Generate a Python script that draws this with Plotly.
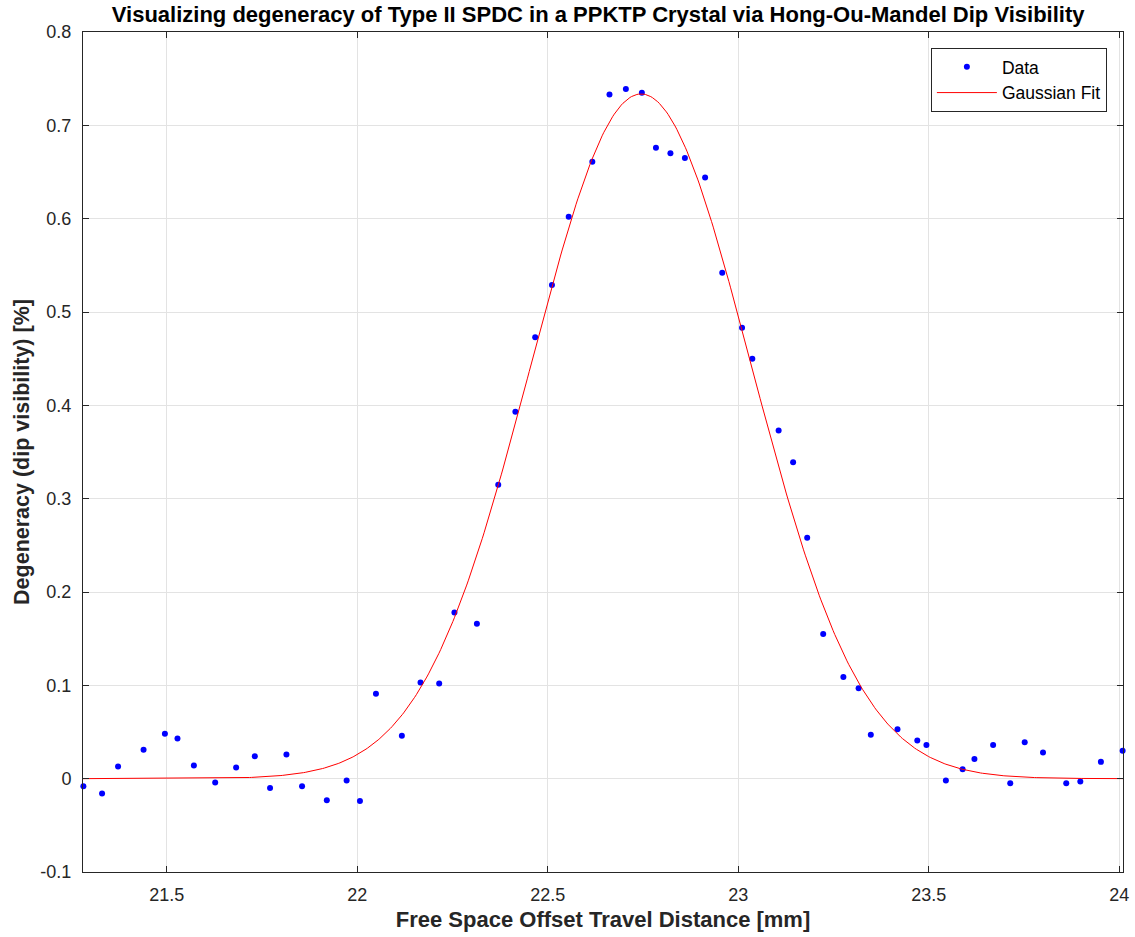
import numpy as np
import plotly.graph_objects as go

# Measured HOM dip visibility vs. free-space delay-stage offset
offset_mm = [
    21.281, 21.330, 21.372, 21.439, 21.495, 21.528, 21.571, 21.627, 21.682, 21.731,
    21.771, 21.814, 21.855, 21.920, 21.972, 22.007, 22.049, 22.117, 22.166, 22.215,
    22.255, 22.314, 22.370, 22.415, 22.467, 22.511, 22.555, 22.617, 22.662, 22.705,
    22.747, 22.784, 22.822, 22.860, 22.913, 22.958, 23.010, 23.037, 23.106, 23.144,
    23.181, 23.223, 23.276, 23.316, 23.348, 23.418, 23.470, 23.494, 23.545, 23.589,
    23.620, 23.669, 23.714, 23.752, 23.800, 23.861, 23.898, 23.952, 24.009,
]
visibility = [
    -0.008, -0.016, 0.013, 0.031, 0.048, 0.043, 0.014, -0.004, 0.012, 0.024,
    -0.010, 0.026, -0.008, -0.023, -0.002, -0.024, 0.091, 0.046, 0.103, 0.102,
    0.178, 0.166, 0.315, 0.393, 0.473, 0.529, 0.602, 0.661, 0.733, 0.739,
    0.735, 0.676, 0.670, 0.665, 0.644, 0.542, 0.483, 0.450, 0.373, 0.339,
    0.258, 0.155, 0.109, 0.097, 0.047, 0.053, 0.041, 0.036, -0.002, 0.010,
    0.021, 0.036, -0.005, 0.039, 0.028, -0.005, -0.003, 0.018, 0.030,
]

# Gaussian fit parameters: amplitude, centre [mm], standard deviation [mm]
fit_amp = 0.7336
fit_center = 22.745
fit_sigma = 0.288

x_ticks = [21.5, 22, 22.5, 23, 23.5, 24]
x_tick_labels = ["21.5", "22", "22.5", "23", "23.5", "24"]
y_ticks = [-0.1, 0, 0.1, 0.2, 0.3, 0.4, 0.5, 0.6, 0.7, 0.8]
y_tick_labels = ["-0.1", "0", "0.1", "0.2", "0.3", "0.4", "0.5", "0.6", "0.7", "0.8"]

x_range = [21.280, 24.010]
y_range = [-0.1, 0.8]

x_fit = np.linspace(x_range[0], x_range[1], 600)
y_fit = fit_amp * np.exp(-((x_fit - fit_center) ** 2) / (2 * fit_sigma ** 2))

FONT = "Liberation Sans, Arial, Helvetica, sans-serif"
AX_COLOR = "#262626"
GRID_COLOR = "#e3e3e3"

fig = go.Figure()
fig.add_trace(go.Scatter(
    x=offset_mm, y=visibility, mode="markers", name="Data",
    marker=dict(color="#0000ff", size=6, symbol="circle", line=dict(width=0)),
    cliponaxis=False,
))
fig.add_trace(go.Scatter(
    x=x_fit, y=y_fit, mode="lines", name="Gaussian Fit",
    line=dict(color="#ff0000", width=1),
))

axis_common = dict(
    showline=True, linecolor=AX_COLOR, linewidth=1, mirror="ticks",
    ticks="inside", ticklen=6, tickcolor=AX_COLOR, tickwidth=1,
    showgrid=True, gridcolor=GRID_COLOR, gridwidth=1,
    zeroline=False, automargin=False,
    tickfont=dict(family=FONT, size=18, color=AX_COLOR),
)

fig.update_layout(
    width=1135, height=937,
    margin=dict(l=83, r=12, t=32, b=65),
    paper_bgcolor="white", plot_bgcolor="white",
    title=dict(
        text="<b>Visualizing degeneracy of Type II SPDC in a PPKTP Crystal via Hong-Ou-Mandel Dip Visibility</b>",
        font=dict(family=FONT, size=22, color="#000000"),
        x=0.527, xanchor="center", y=0.985, yanchor="middle",
    ),
    xaxis=dict(
        range=x_range, tickvals=x_ticks, ticktext=x_tick_labels,
        ticklabelstandoff=6,
        title=dict(text="<b>Free Space Offset Travel Distance [mm]</b>",
                   font=dict(family=FONT, size=22, color=AX_COLOR), standoff=8),
        **axis_common,
    ),
    yaxis=dict(
        range=y_range, tickvals=y_ticks, ticktext=y_tick_labels,
        ticklabelstandoff=7,
        title=dict(text="<b>Degeneracy (dip visibility) [%]</b>",
                   font=dict(family=FONT, size=21.5, color=AX_COLOR), standoff=4),
        **axis_common,
    ),
    legend=dict(
        x=0.9845, xanchor="right", y=0.981, yanchor="top",
        bgcolor="white", bordercolor=AX_COLOR, borderwidth=1,
        font=dict(family=FONT, size=17.5, color="#000000"),
        tracegroupgap=0, itemwidth=60,
    ),
    showlegend=True,
)

fig.write_html("out.html")
